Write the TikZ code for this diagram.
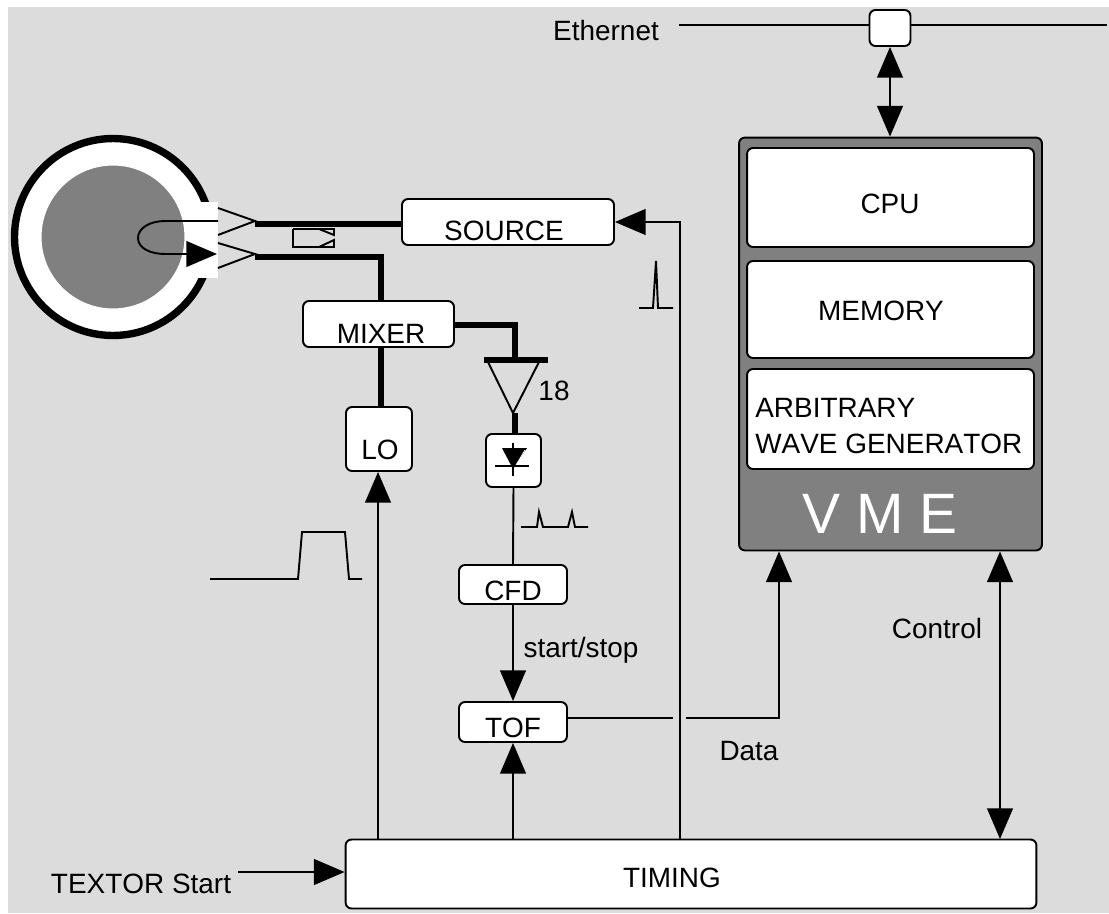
\documentclass[tikz,border=0pt]{standalone}
\usepackage{fontspec}
\setmainfont[Kerning=Off]{Liberation Sans}
\usetikzlibrary{arrows.meta}
\definecolor{bggray}{HTML}{DCDCDC}
\definecolor{midgray}{HTML}{808080}
\tikzset{
	bighead/.tip={Triangle[length=17.5pt,width=14.7pt]},
	wire/.style={line width=1.1pt},
	bus/.style={line width=2.9pt},
	arr/.style={wire,-bighead},
	dblarr/.style={wire,bighead-bighead},
	blk/.style={draw,fill=white,rounded corners=3.4pt,line width=1.1pt,inner sep=0pt},
	lbl/.style={anchor=base,inner sep=0pt,font=\fontsize{15.9pt}{18pt}\selectfont},
}
\begin{document}
\begin{tikzpicture}[x=0.02cm,y=-0.02cm]
	\useasboundingbox (0,0) rectangle (1109,913);
	\fill[bggray] (8,7) rectangle (1109,913);
	\node[blk,minimum width=0.82cm,minimum height=0.72cm] (hub) at (890,28) {};
	\node[blk,fill=midgray,minimum width=6.06cm,minimum height=8.26cm] (vme) at (890.5,344) {};
	\node[blk,minimum width=5.74cm,minimum height=1.98cm] (cpu) at (890.5,197.5) {};
	\node[blk,minimum width=5.74cm,minimum height=1.94cm] (memory) at (890.5,309.5) {};
	\node[blk,minimum width=5.74cm,minimum height=2cm] (awg) at (890.5,419) {};
	\node[blk,minimum width=4.24cm,minimum height=0.92cm] (source) at (508,222) {};
	\node[blk,minimum width=3.02cm,minimum height=0.92cm] (mixer) at (378.5,324) {};
	\node[blk,minimum width=1.32cm,minimum height=1.28cm] (lo) at (379,439) {};
	\node[blk,minimum width=1.1cm,minimum height=1.06cm] (det) at (513.5,460.5) {};
	\node[blk,minimum width=2.16cm,minimum height=0.78cm] (cfd) at (513,584.5) {};
	\node[blk,minimum width=2.16cm,minimum height=0.8cm] (tof) at (513,722) {};
	\node[blk,minimum width=13.82cm,minimum height=1.38cm] (timing) at (691,874) {};

	\draw[line width=4.2pt,fill=white] (113,237) circle [radius=1.97cm];
	\fill[white] (190,202) rectangle (218,278);
	\draw[white,line width=0.6pt,fill=midgray] (113,237) circle [radius=1.44cm];

	\coordinate (hornA) at (255,224);
	\coordinate (hornB) at (255,257);
	\coordinate (bend) at (381,257);
	\coordinate (ampturn) at (515,325);
	\coordinate (amp) at (515,360);
	\coordinate (ampout) at (515,413);
	\coordinate (lotap) at (378,839);
	\coordinate (srctap) at (680,839);
	\coordinate (ctltap) at (1000,839);
	\coordinate (datatap) at (779,718);
	\coordinate (gapL) at (673,718);
	\coordinate (gapR) at (686,718);
	\coordinate (startL) at (238,872);
	\coordinate (ethL) at (679,25);
	\coordinate (ethR) at (1107,25);

	\draw[wire] (218,208) -- (255,221) -- (218,235);
	\draw[wire] (218,243) -- (255,254) -- (218,268);
	\draw[wire] (218,221) -- (165,221) .. controls (150,221) and (138,228) .. (138,238) .. controls (138,248) and (150,254) .. (165,254) -- (186,254);
	\draw[arr] (180,254) -- (217,254);

	\draw[bus] (hornA) -- (hornA -| source.west);
	\draw[bus] (hornB) -- (bend) -- (bend |- mixer.north);
	\draw[bus] (bend |- mixer.south) -- (bend |- lo.north);
	\draw[bus] (ampturn -| mixer.east) -- (ampturn) -- (amp);
	\draw[bus] (484,360) -- (548,360);
	\draw[wire] (487,360) -- (513,413) -- (540,360);
	\draw[bus] (ampout) -- (ampout |- det.north);

	\fill (502,448) -- (527,448) -- (513,469) -- cycle;
	\draw[white,line width=0.5pt] (525,450) -- (515,467);
	\draw[wire] (513,443) -- (513,476);
	\draw[wire] (495,466) -- (529,466);

	\draw[wire] (det.south) -- (cfd.north);
	\draw[arr] (cfd.south) -- (tof.north);
	\draw[arr] (timing.north -| tof.south) -- (tof.south);
	\draw[arr] (lotap) -- (lotap |- lo.south);
	\draw[arr] (srctap) -- (srctap |- source.east) -- (source.east);
	\draw[wire] (tof.east |- gapL) -- (gapL);
	\draw[arr] (gapR) -- (datatap) -- (datatap |- vme.south);
	\draw[dblarr] (ctltap |- vme.south) -- (ctltap);
	\draw[arr] (startL) -- (startL -| timing.west);
	\draw[wire] (ethL) -- (ethL -| hub.west);
	\draw[wire] (ethR) -- (ethR -| hub.east);
	\draw[dblarr] (hub.south) -- (hub.south |- vme.north);

	\draw[wire] (293,229) -- (334,229) -- (334,235) -- (319,229);
	\draw[wire] (293,229) -- (293,247) -- (334,247) -- (334,240) -- (319,247);
	\draw[wire] (639,308) -- (653,308) -- (656,261) -- (658,308) -- (673,308);
	\draw[wire] (521,527) -- (537,527) -- (539,512) -- (543,527) -- (568,527) -- (572,512) -- (575,527) -- (588,527);
	\draw[wire] (210,579) -- (298,579) -- (302,532) -- (345,532) -- (349,579) -- (362,579);

	\node[lbl] (ethernet) at (606,40) {Ethernet};
	\node[lbl] (cputext) at (890,213) {CPU};
	\node[lbl] (memtext) at (881,320) {MEMORY};
	\node[lbl,anchor=base west] (awgtext) at (755,417) {ARBITRARY};
	\node[lbl,anchor=base west] (awgtextb) at (755,453) {WAVE GENERATOR};
	\node[lbl,text=white,font=\fontsize{32.4pt}{36pt}\selectfont] (vmetext) at (880,533) {V M E};
	\node[lbl] (srctext) at (504,240) {SOURCE};
	\node[lbl] (mixtext) at (381,343) {MIXER};
	\node[lbl] (lotext) at (380,459) {LO};
	\node[lbl] (gain) at (554,400) {18};
	\node[lbl] (cfdtext) at (513,600) {CFD};
	\node[lbl] (startstop) at (581,657) {start/stop};
	\node[lbl] (toftext) at (513,737) {TOF};
	\node[lbl] (datatext) at (749,760) {Data};
	\node[lbl] (control) at (937,638) {Control};
	\node[lbl] (timtext) at (672,887) {TIMING};
	\node[lbl] (start) at (141,893) {TEXTOR Start};
\end{tikzpicture}
\end{document}
